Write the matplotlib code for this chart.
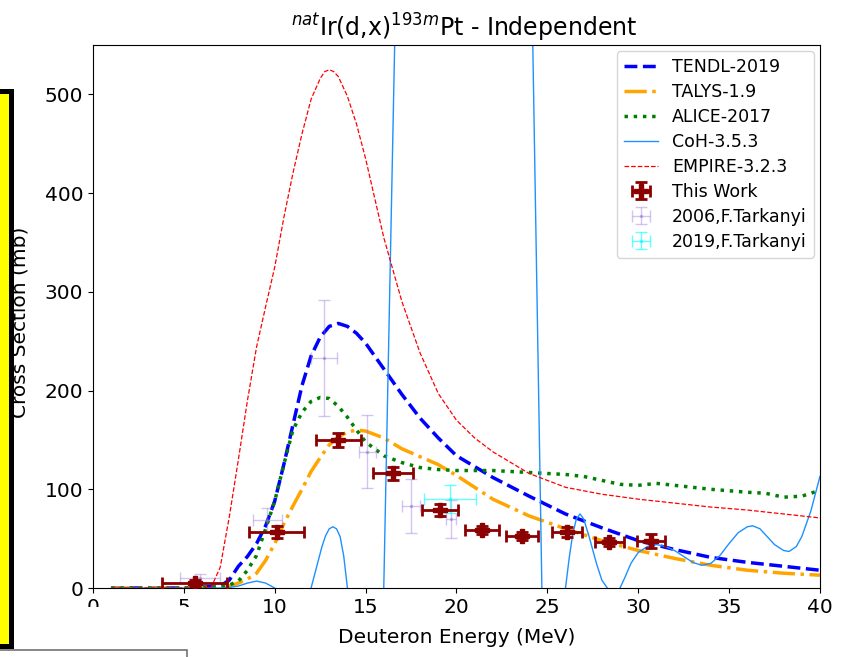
import matplotlib
matplotlib.use('Agg')
import matplotlib.pyplot as plt
from matplotlib.patches import Rectangle

# Courbes des codes (énergie en MeV, section efficace en mb)
E_tendl = [1, 5, 7, 7.5, 8, 8.5, 9, 9.5, 10, 10.5, 11, 11.5, 12, 12.5, 13, 13.5, 14, 14.5, 15,
           16, 17, 18, 19, 20, 22, 24, 26, 28, 30, 32, 34, 36, 38, 40]
tendl = [0, 0, 2, 8, 22, 32, 45, 63, 88, 125, 165, 205, 235, 254, 265, 268, 265, 258, 248,
         222, 196, 172, 152, 134, 112, 93, 75, 61, 48, 39, 31, 26, 22, 18]

E_talys = [1, 5, 7, 7.5, 8, 8.5, 9, 9.5, 10, 10.5, 11, 11.5, 12, 12.5, 13, 13.5, 14, 14.5, 15,
           16, 17, 18, 19, 20, 22, 24, 26, 28, 30, 32, 34, 36, 38, 40]
talys = [0, 0, 1, 2, 5, 9, 15, 28, 45, 65, 83, 100, 118, 132, 145, 153, 158, 160, 159,
         152, 141, 133, 125, 114, 90, 73, 60, 48, 38, 30, 23, 18, 15, 13]

E_alice = [1, 5, 7, 7.5, 8, 8.5, 9, 9.5, 10, 10.5, 11, 11.5, 12, 12.5, 13, 13.5, 14, 14.5, 15,
           16, 17, 18, 19, 20, 22, 24, 26, 27, 28, 29, 30, 31, 32, 34, 36, 37, 38, 39, 40]
alice = [0, 0, 1, 3, 7, 18, 33, 60, 88, 125, 160, 178, 189, 193, 192, 184, 173, 160, 148,
         134, 127, 122, 120, 119, 119, 117, 115, 113, 109, 105, 104, 106, 104, 100, 97, 96, 92, 93, 99]

E_coh = [1, 5, 7, 7.5, 8, 8.5, 9, 9.5, 9.8, 10, 10.5, 11, 11.5, 12, 12.2, 12.4, 12.6, 12.8, 13.0,
         13.2, 13.4, 13.6, 13.8, 14, 14.5, 15, 15.5, 16, 16.3, 16.6, 17, 20, 23, 24.2, 24.5, 24.7,
         25, 25.5, 26, 26.2, 26.4, 26.6, 26.8, 27.0, 27.3, 27.7, 28.0, 28.3, 28.6, 29, 29.3, 29.6,
         30, 30.5, 31, 31.5, 32, 32.5, 33, 33.5, 34, 34.5, 35, 35.5, 36, 36.3, 36.7, 37, 37.5,
         38, 38.3, 38.7, 39, 39.5, 40]
coh = [0, 0, 0, 0.5, 2, 5, 7, 5, 2, 0, -15, -25, -20, 0, 14, 28, 42, 53, 60,
       62, 60, 52, 32, 0, -60, -80, -50, 0, 275, 550, 900, 1500, 1000, 550, 220, 0,
       -40, -20, 0, 30, 55, 70, 75, 70, 52, 25, 8, 0, -10, 0, 12, 25,
       36, 42, 44, 42, 38, 32, 26, 23, 25, 33, 45, 56, 62, 63, 60, 54, 44,
       38, 37, 42, 52, 78, 113]

E_empire = [1, 5, 6.5, 7, 7.5, 8, 8.5, 9, 9.5, 10, 10.5, 11, 11.5, 12, 12.5, 12.75, 13, 13.25, 13.5,
            14, 14.5, 15, 15.5, 16, 17, 18, 19, 20, 21, 22, 24, 26, 28, 30, 32, 34, 36, 38, 40]
empire = [0, 0, 0.5, 21, 72, 130, 190, 244, 285, 325, 375, 420, 460, 495, 516, 523, 525, 523, 518,
          498, 470, 435, 395, 355, 290, 238, 197, 170, 152, 138, 116, 102, 95, 90, 86, 82, 79, 75, 71]

# Mesures (ce travail)
E_work = [5.6, 10.1, 13.5, 16.5, 19.1, 21.4, 23.6, 26.1, 28.4, 30.7]
y_work = [5, 57, 150, 116, 79, 59, 53, 57, 47, 48]
xerr_work = [1.8, 1.5, 1.25, 1.1, 1.0, 0.93, 0.9, 0.83, 0.8, 0.78]
yerr_work = [3, 6, 7, 7, 6, 4, 4, 5, 4, 7]

# Données Tarkanyi
E_2006 = [5.9, 9.6, 12.7, 15.1, 17.5, 19.7]
y_2006 = [10, 69, 233, 138, 83, 70]
xerr_2006 = [1.1, 0.8, 0.7, 0.45, 0.5, 0.3]
yerr_2006 = [4, 12, 59, 37, 27, 19]

E_2019 = [19.64]
y_2019 = [90]
xerr_2019 = [1.45]
yerr_2019 = [14]

fig = plt.figure(figsize=(8.46, 6.57), dpi=100)
ax = fig.add_axes([0.1099, 0.1050, 0.8593, 0.8265])

ax.plot(E_tendl, tendl, color='blue', linestyle='--', linewidth=2.5, label='TENDL-2019')
ax.plot(E_talys, talys, color='orange', linestyle='-.', linewidth=2.5, label='TALYS-1.9')
ax.plot(E_alice, alice, color='green', linestyle=':', linewidth=2.5, label='ALICE-2017')
ax.plot(E_coh, coh, color='dodgerblue', linestyle='-', linewidth=1, label='CoH-3.5.3')
ax.plot(E_empire, empire, color='red', linestyle='--', linewidth=0.9, label='EMPIRE-3.2.3')

ax.errorbar(E_work, y_work, xerr=xerr_work, yerr=yerr_work, fmt='P', color='darkred',
            markersize=10, elinewidth=2, capsize=4, capthick=2, label='This Work', zorder=5)
ax.errorbar(E_2006, y_2006, xerr=xerr_2006, yerr=yerr_2006, fmt='.', color='mediumpurple',
            markersize=3, elinewidth=1, capsize=4, alpha=0.4, label='2006,F.Tarkanyi')
ax.errorbar(E_2019, y_2019, xerr=xerr_2019, yerr=yerr_2019, fmt='.', color='cyan',
            markersize=3, elinewidth=1, capsize=4, alpha=0.6, label='2019,F.Tarkanyi')

ax.set_xlim(0, 40)
ax.set_ylim(0, 550)
ax.set_xticks(range(0, 41, 5))
ax.set_yticks(range(0, 501, 100))
ax.tick_params(labelsize=14.5)
ax.set_xlabel('Deuteron Energy (MeV)', fontsize=14.5, labelpad=8)
ax.set_ylabel('Cross Section (mb)', fontsize=14.5)
ax.yaxis.set_label_coords(-0.088, 0.49)
ax.set_title(r'$^{nat}$Ir(d,x)$^{193m}$Pt - Independent', fontsize=17, x=0.51)
ax.legend(loc='upper right', fontsize=12.5, labelspacing=0.4, borderaxespad=0.35)

# Éléments parasites de la capture d'écran
W, H = 846, 657
fig.add_artist(Rectangle((-5 / W, 11.5 / H), 15.5 / W, 555 / H, transform=fig.transFigure,
                         facecolor='yellow', edgecolor='black', linewidth=3.6, zorder=10))
fig.add_artist(Rectangle((14 / W, 8 / H), 176 / W, 42 / H, transform=fig.transFigure,
                         facecolor='white', edgecolor='none', zorder=9))
fig.add_artist(Rectangle((-5 / W, -5 / H), 192 / W, 12 / H, transform=fig.transFigure,
                         facecolor='white', edgecolor='#666666', linewidth=1.1, zorder=10))

fig.savefig('out.png', dpi=100)
